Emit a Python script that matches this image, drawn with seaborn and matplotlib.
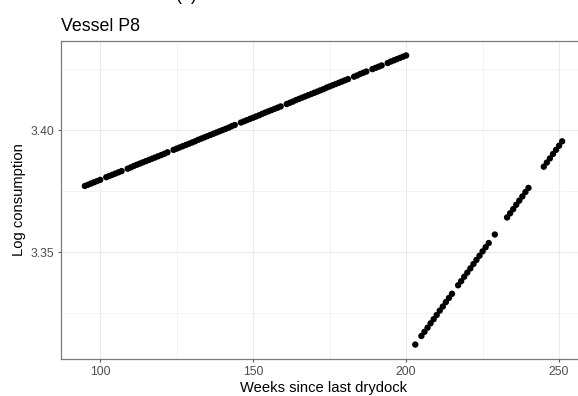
import matplotlib
matplotlib.use("Agg")
import matplotlib.pyplot as plt
from matplotlib.ticker import FixedLocator
import pandas as pd
import seaborn as sns

# Weeks since last drydock and fitted log consumption, first period
weeks_a = [95, 96, 97, 98, 99, 100, 102, 103, 104, 105, 106, 107,
           109, 110, 111, 112, 113, 114, 115, 116, 117, 118, 119, 120, 121, 122,
           124, 125, 126, 127, 128, 129, 130, 131, 132, 133, 134, 135, 136, 137,
           138, 139, 140, 141, 142, 143, 144,
           146, 147, 148, 149, 150, 151, 152, 153, 154, 155, 156, 157, 158, 159,
           161, 162, 163, 164, 165, 166, 167, 168, 169, 170, 171, 172, 173, 174,
           175, 176, 177, 178, 179, 180, 181,
           183, 184, 185, 186, 187,
           189, 190, 191, 192,
           194, 195, 196, 197, 198, 199, 200]
logcons_a = [3.3772, 3.3777, 3.3782, 3.3787, 3.3792, 3.3797, 3.3808, 3.3813,
             3.3818, 3.3823, 3.3828, 3.3833,
             3.3843, 3.3848, 3.3854, 3.3859, 3.3864, 3.3869, 3.3874, 3.3879,
             3.3884, 3.3889, 3.3894, 3.3899, 3.3904, 3.3910,
             3.3920, 3.3925, 3.3930, 3.3935, 3.3940, 3.3945, 3.3950, 3.3955,
             3.3961, 3.3966, 3.3971, 3.3976, 3.3981, 3.3986,
             3.3991, 3.3996, 3.4001, 3.4006, 3.4011, 3.4017, 3.4022,
             3.4032, 3.4037, 3.4042, 3.4047, 3.4052, 3.4057, 3.4062, 3.4068,
             3.4073, 3.4078, 3.4083, 3.4088, 3.4093, 3.4098,
             3.4108, 3.4113, 3.4118, 3.4124, 3.4129, 3.4134, 3.4139, 3.4144,
             3.4149, 3.4154, 3.4159, 3.4164, 3.4169, 3.4175,
             3.4180, 3.4185, 3.4190, 3.4195, 3.4200, 3.4205, 3.4210,
             3.4220, 3.4225, 3.4231, 3.4236, 3.4241,
             3.4251, 3.4256, 3.4261, 3.4266,
             3.4276, 3.4282, 3.4287, 3.4292, 3.4297, 3.4302, 3.4307]

# Second period
weeks_b = [203, 205, 206, 207, 208, 209, 210, 211, 212, 213, 214, 215,
           217, 218, 219, 220, 221, 222, 223, 224, 225, 226, 227,
           229,
           233, 234, 235, 236, 237, 238, 239, 240,
           245, 246, 247, 248, 249, 250, 251]
logcons_b = [3.3122, 3.3157, 3.3174, 3.3191, 3.3209, 3.3226, 3.3243, 3.3261,
             3.3278, 3.3296, 3.3313, 3.3330,
             3.3365, 3.3382, 3.3400, 3.3417, 3.3434, 3.3452, 3.3469, 3.3486,
             3.3504, 3.3521, 3.3538,
             3.3573,
             3.3643, 3.3660, 3.3677, 3.3695, 3.3712, 3.3729, 3.3747, 3.3764,
             3.3851, 3.3868, 3.3885, 3.3903, 3.3920, 3.3937, 3.3955]

x_major = [100, 150, 200, 250]
x_minor = [125, 175, 225]
y_major = [3.35, 3.40]
y_minor = [3.325, 3.375, 3.425]
y_ticklabels = ["3.35", "3.40"]

df = pd.DataFrame({
    "week": weeks_a + weeks_b,
    "logcons": logcons_a + logcons_b,
})

sns.set_theme(style="white")
plt.rcParams["font.family"] = ["Liberation Sans", "DejaVu Sans"]

fig = plt.figure(figsize=(5.78, 3.96), dpi=100)
ax = fig.add_axes([61 / 578, 37 / 396, 525 / 578, 318 / 396])

sns.scatterplot(data=df, x="week", y="logcons", ax=ax, color="black",
                s=21, edgecolor="none", linewidth=0, zorder=3)

# ggplot-style range expansion of 5% on both axes
xmin, xmax = df["week"].min(), df["week"].max()
ymin, ymax = df["logcons"].min(), df["logcons"].max()
dx, dy = 0.05 * (xmax - xmin), 0.05 * (ymax - ymin)
ax.set_xlim(xmin - dx, xmax + dx)
ax.set_ylim(ymin - dy, ymax + dy)

ax.xaxis.set_major_locator(FixedLocator(x_major))
ax.xaxis.set_minor_locator(FixedLocator(x_minor))
ax.yaxis.set_major_locator(FixedLocator(y_major))
ax.yaxis.set_minor_locator(FixedLocator(y_minor))
ax.set_yticklabels(y_ticklabels)
ax.set_xticklabels([str(v) for v in x_major])

ax.grid(which="major", color="#EBEBEB", linewidth=0.85, zorder=0)
ax.grid(which="minor", color="#EFEFEF", linewidth=0.5, zorder=0)
ax.set_axisbelow(True)

for side in ["left", "bottom", "top", "right"]:
    ax.spines[side].set_visible(True)
    ax.spines[side].set_color("#7A7A7A")
    ax.spines[side].set_linewidth(0.9)

ax.tick_params(which="major", length=2.4, width=0.8, color="#555555",
               labelsize=8.7, labelcolor="#4D4D4D", pad=2.5,
               bottom=True, left=True)
ax.tick_params(which="minor", length=0, bottom=False, left=False)

ax.set_xlabel("Weeks since last drydock", fontsize=10.6, color="black", labelpad=2)
ax.set_ylabel("Log consumption", fontsize=10.6, color="black", labelpad=3)
ax.set_title("Vessel P8", loc="left", fontsize=12.8, color="black", pad=7.5)

# panel tag sitting just above the top edge of the canvas
fig.text(187 / 578, 1 - 0.5 / 396, "(b)", ha="center", va="baseline",
         fontsize=12.8, color="black")

fig.savefig("out.png", dpi=100, facecolor="white")
